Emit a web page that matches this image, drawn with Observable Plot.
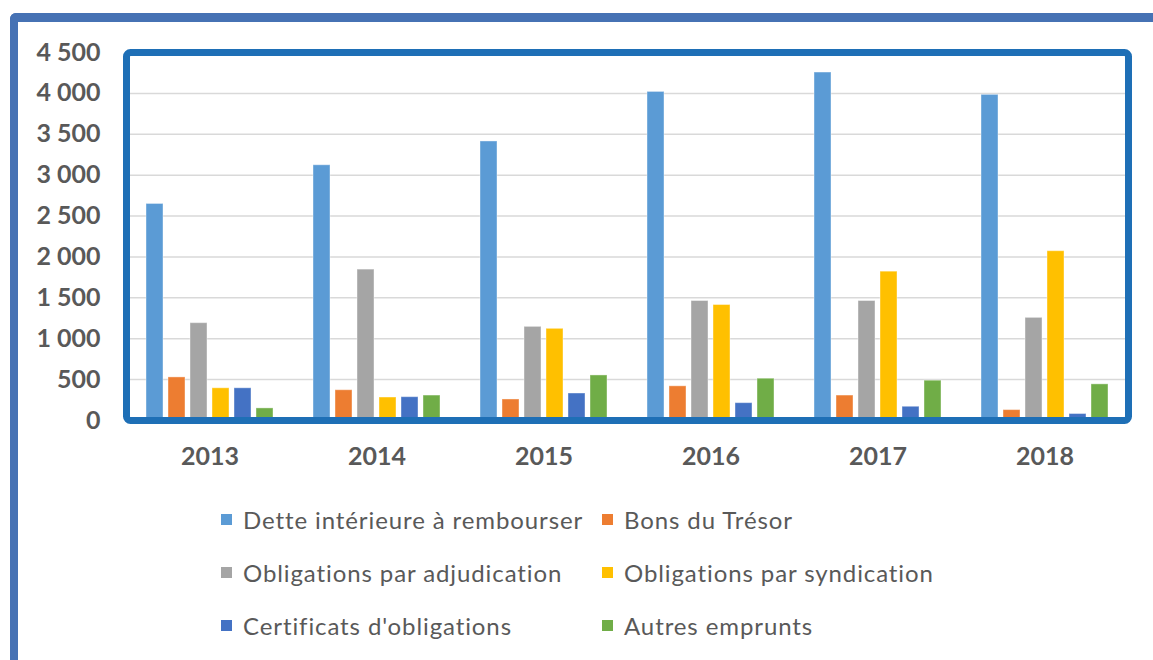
<!DOCTYPE html>
<html>
<head>
<meta charset="utf-8">
<script src="https://cdn.jsdelivr.net/npm/d3@7"></script>
<script src="https://cdn.jsdelivr.net/npm/@observablehq/plot@0.6"></script>
<style>
  body { margin: 0; background: #fff; }
  #root { position: relative; width: 1153px; height: 660px; overflow: hidden; background: #fff; font-family: Lato, "Open Sans", sans-serif; }
  #outer { position: absolute; left: 10px; top: 13px; width: 1300px; height: 800px; border-top: 9px solid #4672B4; border-left: 8px solid #4672B4; border-top-left-radius: 6px; box-sizing: border-box; }
  #chart { position: absolute; left: 0; top: 0; }
  #legend { position: absolute; left: 221px; top: 500px; display: grid; grid-template-columns: 381px 420px; grid-auto-rows: 53px; color: #595959; font-size: 24px; letter-spacing: 0.9px; }
  .item { display: flex; align-items: center; height: 38px; white-space: nowrap; }
  .sw { width: 11px; height: 11px; margin-right: 11px; flex: none; }
</style>
</head>
<body>
<div id="root">
  <div id="outer"></div>
  <div id="chart"></div>
  <div id="legend"></div>
</div>
<script>
const years = ["2013", "2014", "2015", "2016", "2017", "2018"];
const series = [
  "Dette intérieure à rembourser",
  "Bons du Trésor",
  "Obligations par adjudication",
  "Obligations par syndication",
  "Certificats d'obligations",
  "Autres emprunts"
];
const colors = ["#5B9BD5", "#ED7D31", "#A5A5A5", "#FFC000", "#4472C4", "#70AD47"];
const detteInterieure = [2648, 3121, 3412, 4018, 4255, 3982];
const bonsTresor = [527, 370, 257, 418, 305, 127];
const oblAdjudication = [1190, 1845, 1145, 1461, 1461, 1255];
const oblSyndication = [394, 281, 1121, 1412, 1820, 2070];
const certificats = [394, 285, 330, 212, 168, 79];
const autresEmprunts = [148, 305, 551, 511, 487, 442];
const yTicks = [0, 500, 1000, 1500, 2000, 2500, 3000, 3500, 4000, 4500];

const seriesValues = [detteInterieure, bonsTresor, oblAdjudication, oblSyndication, certificats, autresEmprunts];
const data = [];
years.forEach((yr, i) => {
  series.forEach((s, j) => {
    data.push({year: yr, series: s, value: seriesValues[j][i]});
  });
});

const fmt = d => d3.format(",")(d).replace(/,/g, " ");

const chart = Plot.plot({
  width: 1153,
  height: 480,
  marginLeft: 123,
  marginRight: 23,
  marginTop: 52,
  marginBottom: 60,
  style: {fontFamily: "Lato, 'Open Sans', sans-serif", color: "#595959", background: "transparent"},
  fx: {domain: years, padding: 0},
  x: {domain: series, paddingInner: 0.238, paddingOuter: 0.879, axis: null},
  y: {domain: [0, 4500]},
  color: {domain: series, range: colors},
  marks: [
    Plot.gridY(yTicks, {stroke: "#D9D9D9", strokeOpacity: 1, strokeWidth: 1.5}),
    Plot.barY(data, {fx: "year", x: "series", y: "value", fill: "series", stroke: "white", strokeOpacity: 0.4, strokeWidth: 1}),
    Plot.frame({facet: "super", stroke: "#1E6FB6", strokeWidth: 7, rx: 4}),
    Plot.axisY(yTicks, {tickSize: 0, tickPadding: 26, tickFormat: fmt, fontSize: 25, fontWeight: "bold", label: null, color: "#595959"}),
    Plot.axisFx({anchor: "bottom", tickSize: 0, tickPadding: 27, fontSize: 25, fontWeight: "bold", label: null, color: "#595959"})
  ]
});
document.getElementById("chart").appendChild(chart);

const legend = document.getElementById("legend");
series.forEach((s, j) => {
  const it = document.createElement("div");
  it.className = "item";
  const sw = document.createElement("span");
  sw.className = "sw";
  sw.style.background = colors[j];
  const tx = document.createElement("span");
  tx.textContent = s;
  it.appendChild(sw);
  it.appendChild(tx);
  legend.appendChild(it);
});
</script>
</body>
</html>
